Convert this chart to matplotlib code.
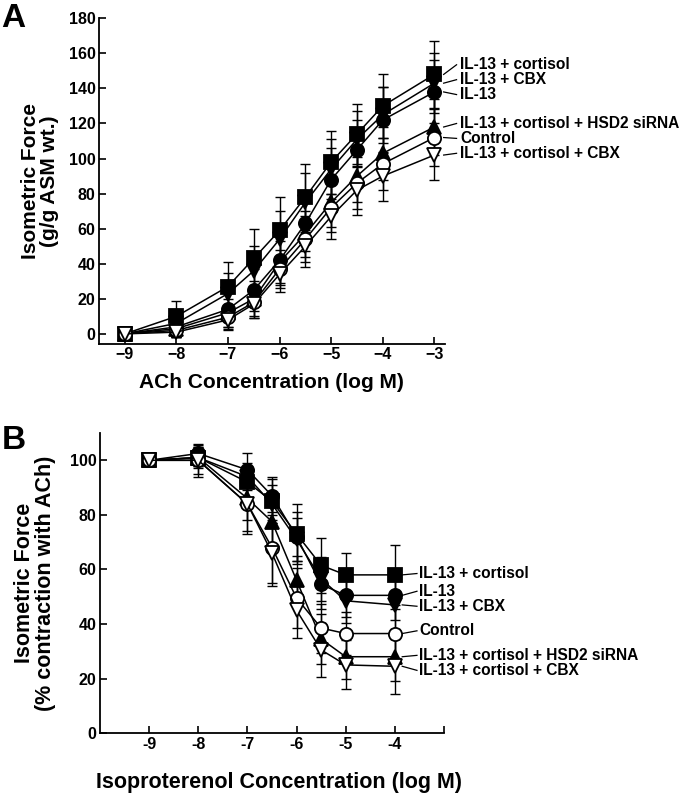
import numpy as np
import matplotlib
matplotlib.use('Agg')
import matplotlib.pyplot as plt

plt.rcParams['font.family'] = ['Liberation Sans', 'DejaVu Sans']
plt.rcParams['font.weight'] = 'bold'

# ---- panel A data (ACh dose response)
xa = [-9, -8, -7, -6.5, -6, -5.5, -5, -4.5, -4, -3]
a_cort = [0, 10, 27, 43, 59, 78, 98, 114, 130, 148]
a_cbx = [0, 6, 23, 36, 54, 75, 94, 111, 125, 143]
a_il13 = [0, 4, 14, 25, 42, 63, 88, 105, 122, 138]
a_sirna = [0, 3, 12, 20, 41, 57, 75, 90, 103, 118]
a_ctrl = [0, 2, 9.5, 18, 37, 54, 72, 86, 97, 112]
a_cortcbx = [0, 1, 8, 17, 34, 50, 67, 82, 90, 102]

a_cort_se = [0, 9, 14, 17, 19, 19, 18, 17, 18, 19]
a_cbx_se = [0, 7, 12, 14, 16, 17, 17, 16, 16, 17]
a_il13_se = [0, 6, 10, 12, 14, 16, 18, 17, 19, 18]
a_sirna_se = [0, 5, 8, 10, 12, 13, 14, 15, 15, 16]
a_ctrl_se = [0, 4, 7, 9, 11, 13, 14, 15, 15, 16]
a_cortcbx_se = [0, 3, 6, 8, 10, 12, 13, 14, 14, 14]

# ---- panel B data (isoproterenol relaxation)
xb = [-9, -8, -7, -6.5, -6, -5.5, -5, -4]
b_cort = [100, 101, 92, 85, 73, 61.5, 58, 58]
b_il13 = [100, 102.5, 96.5, 87, 72, 54.5, 50.5, 50.5]
b_cbx = [100, 101, 94, 84, 71, 56.5, 48.5, 47]
b_sirna = [100, 101, 86, 77.5, 56, 34.5, 28, 28]
b_ctrl = [100, 100, 84, 68, 49.5, 38.5, 36.5, 36.5]
b_cortcbx = [100, 100, 84, 66, 45, 30.5, 25, 24.5]

b_cort_se = [0, 3, 6, 8, 11, 10, 8, 11]
b_il13_se = [0, 3, 6, 7, 9, 9, 8, 9]
b_cbx_se = [0, 3, 5, 7, 8, 8, 8, 9]
b_sirna_se = [0, 4, 8, 10, 9, 9, 8, 9]
b_ctrl_se = [0, 5, 11, 13, 11, 9, 8, 9]
b_cortcbx_se = [0, 6, 10, 12, 10, 10, 9, 10]

names = ['IL-13 + cortisol', 'IL-13 + CBX', 'IL-13',
         'IL-13 + cortisol + HSD2 siRNA', 'Control', 'IL-13 + cortisol + CBX']
markers = ['s', 'v', 'o', '^', 'o', 'v']
faces = ['black', 'black', 'black', 'black', 'white', 'white']

# label heights (data units) for the text next to the curves, same order as names
a_lab_y = [153.5, 145, 136.5, 120, 111.5, 103]
b_lab_y = [58.5, 46.5, 52, 28.5, 37.5, 23]

fig = plt.figure(figsize=(6.97, 7.96), dpi=100)
axA = fig.add_axes([0.142, 0.568, 0.496, 0.409])
axB = fig.add_axes([0.1435, 0.079, 0.4935, 0.377])


def draw(ax, x, ys, ses, lab_y, x_lab0, x_lab1, x_txt):
    for i in range(len(ys)):
        ax.errorbar(x, ys[i], yerr=ses[i], fmt='none', ecolor='black',
                    elinewidth=1, capsize=3.5, capthick=1, zorder=2)
    for i in range(len(ys)):
        ax.plot(x, ys[i], '-', color='black', lw=1.1, marker=markers[i],
                mfc=faces[i], mec='black', mew=1.3, ms=9.5, zorder=3 + i * 0.1)
        ax.plot([x_lab0, x_lab1], [ys[i][-1], lab_y[i]], color='black',
                lw=0.9, clip_on=False)
        ax.text(x_txt, lab_y[i], names[i], fontsize=11.2, fontweight='bold',
                va='center', ha='left', clip_on=False)


draw(axA, xa, [a_cort, a_cbx, a_il13, a_sirna, a_ctrl, a_cortcbx],
     [a_cort_se, a_cbx_se, a_il13_se, a_sirna_se, a_ctrl_se, a_cortcbx_se],
     a_lab_y, -2.82, -2.57, -2.5)
draw(axB, xb, [b_cort, b_cbx, b_il13, b_sirna, b_ctrl, b_cortcbx],
     [b_cort_se, b_cbx_se, b_il13_se, b_sirna_se, b_ctrl_se, b_cortcbx_se],
     b_lab_y, -3.85, -3.55, -3.5)

for ax in (axA, axB):
    for s in ('top', 'right'):
        ax.spines[s].set_visible(False)
    for s in ('left', 'bottom'):
        ax.spines[s].set_linewidth(1.3)
    ax.tick_params(direction='in', length=5, width=1.2, labelsize=11.5, pad=2.5)

axA.set_xlim(-9.5, -2.8)
axA.set_ylim(-5.7, 180)
axA.set_xticks([-9, -8, -7, -6, -5, -4, -3])
axA.set_yticks(np.arange(0, 181, 20))
axA.set_xlabel('ACh Concentration (log M)', fontsize=15, fontweight='bold', labelpad=8)
axA.set_ylabel('Isometric Force\n(g/g ASM wt.)', fontsize=15, fontweight='bold',
               labelpad=7, linespacing=1.0)

axB.set_xlim(-10, -3)
axB.set_ylim(0, 110)
axB.set_xticks([-9, -8, -7, -6, -5, -4, -3])
axB.set_xticklabels(['-9', '-8', '-7', '-6', '-5', '-4', ''])
axB.set_yticks(np.arange(0, 101, 20))
axB.set_xlabel('Isoproterenol Concentration (log M)', fontsize=15.5, fontweight='bold', labelpad=14)
axB.xaxis.set_label_coords(0.52, -0.13)
axB.set_ylabel('Isometric Force\n(% contraction with ACh)', fontsize=15.5, fontweight='bold',
               labelpad=10, linespacing=1.0)
for t in axA.get_xticklabels() + axA.get_yticklabels() + axB.get_xticklabels() + axB.get_yticklabels():
    t.set_fontweight('bold')

fig.text(0.002, 0.966, 'A', fontsize=24, fontweight='bold')
fig.text(0.002, 0.436, 'B', fontsize=24, fontweight='bold')

fig.savefig('out.png', dpi=100)
